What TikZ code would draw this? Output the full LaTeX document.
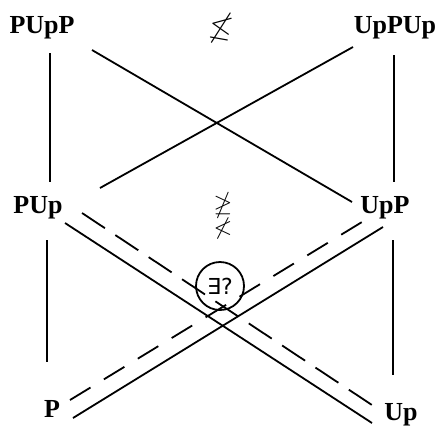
\documentclass[tikz,border=0pt]{standalone}
\usepackage{amssymb}
\usepackage{fontspec}
\setmainfont{Liberation Serif}
\newfontfamily\djv{DejaVu Sans}
\begin{document}
\begin{tikzpicture}[x=1pt,y=-1pt,
  lbl/.style={font=\fontsize{26}{30}\selectfont\bfseries,anchor=base,inner sep=0pt},
  ln/.style={line width=1.8pt},
  dsh/.style={line width=1.8pt,dash pattern=on 27.5pt off 12.5pt},
  dsh2/.style={line width=1.8pt,dash pattern=on 24pt off 15.7pt},
  sym/.style={font=\fontsize{30}{32}\selectfont,inner sep=0pt}]
\useasboundingbox (0,0) rectangle (441,426);
% labels
\node[lbl] (pupp) at (42,33) {PUpP};
\node[lbl] (uppup) at (395,33) {UpPUp};
\node[lbl] (pup) at (38,213) {PUp};
\node[lbl] (upp) at (385,213) {UpP};
\node[lbl] (p) at (52,417) {P};
\node[lbl] (up) at (401,420) {Up};
% endpoints
\coordinate (a1) at (50,53);  \coordinate (a2) at (50,182);
\coordinate (b1) at (47,240); \coordinate (b2) at (47,362);
\coordinate (c1) at (394,55); \coordinate (c2) at (394,182);
\coordinate (d1) at (393,240); \coordinate (d2) at (393,375);
\coordinate (e1) at (92,50);  \coordinate (e2) at (352,202);
\coordinate (f1) at (353,47); \coordinate (f2) at (100,188);
\coordinate (g1) at (65,223); \coordinate (g2) at (372,423);
\coordinate (h1) at (73,418); \coordinate (h2) at (383,227);
\coordinate (i1) at (82,213); \coordinate (i2) at (372,405);
\coordinate (j1) at (70,400); \coordinate (j2) at (362,222);
% lines
\draw[ln] (a1) -- (a2);
\draw[ln] (b1) -- (b2);
\draw[ln] (c1) -- (c2);
\draw[ln] (d1) -- (d2);
\draw[ln] (e1) -- (e2);
\draw[ln] (f1) -- (f2);
\draw[ln] (g1) -- (g2);
\draw[ln] (h1) -- (h2);
\draw[dsh] (i1) -- (i2);
\draw[dsh2] (j1) -- (j2);
% symbols
\node[sym,rotate=-10] (s1) at (221,28) {$\nleq$};
\node[sym,font=\fontsize{24}{26}\selectfont,align=center] (s2) at (223,216) {$\ngeq$\\[-3pt]$\nless$};
\node[draw,circle,line width=1.8pt,minimum size=48pt,inner sep=0pt,
  font=\djv\fontsize{22}{24}\selectfont] (q) at (220,286) {∃?};
\end{tikzpicture}
\end{document}
